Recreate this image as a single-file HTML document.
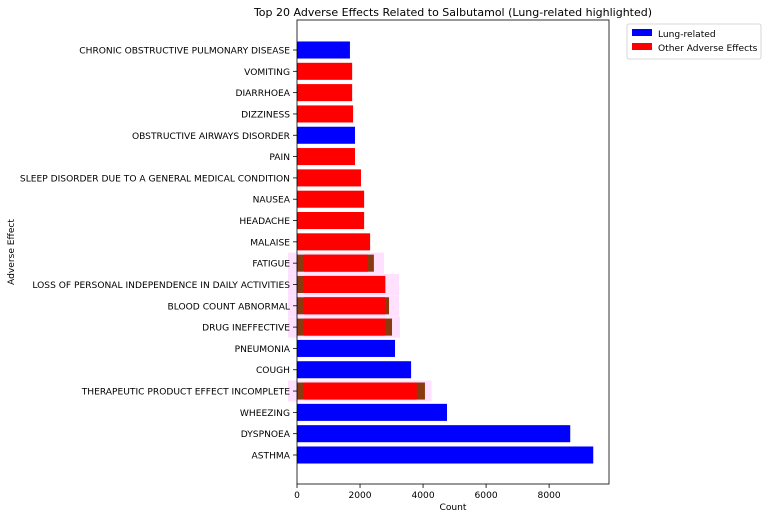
<!DOCTYPE html>
<html><head><meta charset="utf-8"><style>
body{margin:0;background:#fff;font-family:"Liberation Sans","DejaVu Sans",sans-serif}
svg text{font-family:"DejaVu Sans","Liberation Sans",sans-serif}
</style></head><body>
<svg id="c" width="768" height="519" xmlns="http://www.w3.org/2000/svg"></svg>
<script>
const categories=["ASTHMA","DYSPNOEA","WHEEZING","THERAPEUTIC PRODUCT EFFECT INCOMPLETE","COUGH","PNEUMONIA","DRUG INEFFECTIVE","BLOOD COUNT ABNORMAL","LOSS OF PERSONAL INDEPENDENCE IN DAILY ACTIVITIES","FATIGUE","MALAISE","HEADACHE","NAUSEA","SLEEP DISORDER DUE TO A GENERAL MEDICAL CONDITION","PAIN","OBSTRUCTIVE AIRWAYS DISORDER","DIZZINESS","DIARRHOEA","VOMITING","CHRONIC OBSTRUCTIVE PULMONARY DISEASE"];
const counts=[9400,8670,4760,3800,3620,3110,2790,2800,2800,2250,2320,2130,2130,2030,1840,1840,1780,1750,1750,1680];
const lungRelated=[1,1,1,0,1,1,0,0,0,0,0,0,0,0,0,1,0,0,0,1];
const overlayCounts=[0,0,0,4060,0,0,3015,2920,2800,2440,0,0,0,0,0,0,0,0,0,0];
const haloCounts=[0,0,0,4270,0,0,3270,3240,3240,2760,0,0,0,0,0,0,0,0,0,0];
const xTicks=[0,2000,4000,6000,8000];
const NS="http://www.w3.org/2000/svg";
const svg=document.getElementById('c');
const L=297,R=609,T=20,B=484,xMax=9900;
const x=v=>L+v/xMax*(R-L);
const step=(455-50)/19;
const y=i=>455-i*step;
const bh=step*0.8;
const FS=9.1;
function mk(t,a){const e=document.createElementNS(NS,t);for(const k in a)e.setAttribute(k,a[k]);svg.appendChild(e);return e;}
categories.forEach((c,i)=>{
  const yc=y(i);
  if(haloCounts[i]){
    const h=mk('rect',{x:L-9,y:yc-bh/2-2,width:x(haloCounts[i])-L+9,height:bh+4,fill:'#ff00ff',opacity:0.12});
    
    
    const o=mk('rect',{x:L,y:yc-bh/2,width:x(overlayCounts[i])-L,height:bh,fill:'#8b3a0f'});
    
    
  }
  const x0=haloCounts[i]?L+7:L;
  const r=mk('rect',{x:x0,y:yc-bh/2,width:x(counts[i])-x0,height:bh,fill:lungRelated[i]?'#0000ff':'#ff0000'});
  
  
  mk('line',{x1:L-4,x2:L,y1:yc,y2:yc,stroke:'#000','stroke-width':0.8});
  const t=mk('text',{x:L-7,y:yc+3.5,'text-anchor':'end','font-size':FS});
  t.textContent=c;
  
  
});
xTicks.forEach(v=>{
  mk('line',{x1:x(v),x2:x(v),y1:B,y2:B+4,stroke:'#000','stroke-width':0.8});
  const t=mk('text',{x:x(v),y:B+14,'text-anchor':'middle','font-size':FS});
  t.textContent=v;
  
  
});
const f=mk('rect',{x:L,y:T,width:R-L,height:B-T,fill:'none',stroke:'#000','stroke-width':0.8});


let t=mk('text',{x:453,y:16,'text-anchor':'middle','font-size':11});t.textContent='Top 20 Adverse Effects Related to Salbutamol (Lung-related highlighted)';


t=mk('text',{x:453,y:510,'text-anchor':'middle','font-size':FS});t.textContent='Count';


t=mk('text',{x:14,y:252,'text-anchor':'middle','font-size':FS,transform:'rotate(-90 14 252)'});t.textContent='Adverse Effect';


const lg=mk('rect',{x:627,y:24,width:134,height:35,fill:'#fff',stroke:'#ccc','stroke-width':0.8,rx:2});


[['Lung-related','#0000ff'],['Other Adverse Effects','#ff0000']].forEach((d,k)=>{
  mk('rect',{x:632,y:29+k*14,width:20,height:7,fill:d[1]});
  const e=mk('text',{x:658,y:37+k*14,'font-size':FS});e.textContent=d[0];
  
  
});
</script>
</body></html>
